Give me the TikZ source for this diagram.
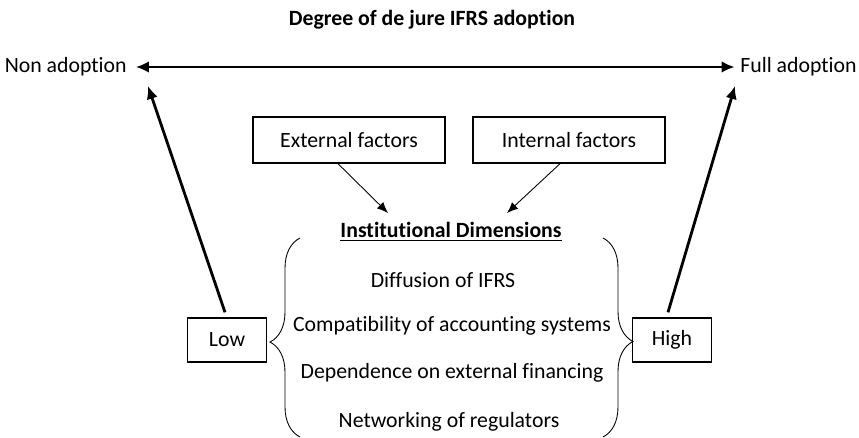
\documentclass[tikz,border=0pt]{standalone}
\usepackage{fontspec}
\setmainfont[Ligatures={NoCommon,NoContextual}]{Carlito}
\usetikzlibrary{arrows.meta,decorations.pathreplacing}
\tikzset{
  factor/.style = {draw, thick, rectangle, minimum width=3.84cm,
                   minimum height=0.92cm, inner sep=0},
  level/.style = {draw, thick, rectangle, minimum width=1.58cm,
                  minimum height=0.88cm, inner sep=0},
  label/.style = {inner sep=0, anchor=center},
  main arrow/.style = {line width=1.6pt, -{Latex[length=2.6mm,width=2.3mm]}},
  small arrow/.style = {line width=0.5pt, -{Latex[length=2.2mm,width=1.8mm]}},
  curly/.style = {line width=0.5pt, decorate,
                  decoration={brace, amplitude=0.6cm, aspect=#1}},
}

\begin{document}
\begin{tikzpicture}[x=0.02cm, y=-0.02cm, font=\fontsize{12.4}{14}\selectfont]
\useasboundingbox (0,0) rectangle (859,438);

% title and the adoption scale
\node[label, font=\fontsize{12.4}{14}\selectfont\bfseries] (title) at (432,20) {Degree of de jure IFRS adoption};
\node[label, anchor=east] (non) at (127,67) {Non adoption};
\node[label, anchor=west] (full) at (740,67) {Full adoption};
\draw[line width=1.6pt, {Latex[length=2.6mm,width=2.3mm]}-{Latex[length=2.6mm,width=2.3mm]}]
  ([xshift=5pt]non.east) -- ([xshift=-3pt]full.west);

% factors
\node[factor] (ext) at (349,140) {External factors};
\node[factor] (int) at (569,140) {Internal factors};
\node[label, font=\fontsize{12.4}{14}\selectfont\bfseries] (dim) at (451,232) {\underline{Institutional Dimensions}};
\draw[small arrow] ([xshift=-0.22cm]ext.south) -- (388,213);
\draw[small arrow] ([xshift=-0.18cm]int.south) -- (507,213);

% dimensions
\node[label] (d1) at (443,280) {Diffusion of IFRS};
\node[label] (d2) at (452,326) {Compatibility of accounting systems};
\node[label] (d3) at (452,373) {Dependence on external financing};
\node[label] (d4) at (449,422) {Networking of regulators};

% braces
\draw[curly=0.477] (300,437) -- (300,238);
\draw[curly=0.52] (603,238) -- (603,437);

% low and high
\node[level] (low) at (227,340) {Low};
\node[level] (high) at (672,340) {High};
\draw[main arrow] ([xshift=-0.04cm, yshift=0.1cm]low.north) -- (148,86);
\draw[main arrow] ([xshift=-0.08cm, yshift=0.1cm]high.north) -- (735,86);
\end{tikzpicture}
\end{document}
